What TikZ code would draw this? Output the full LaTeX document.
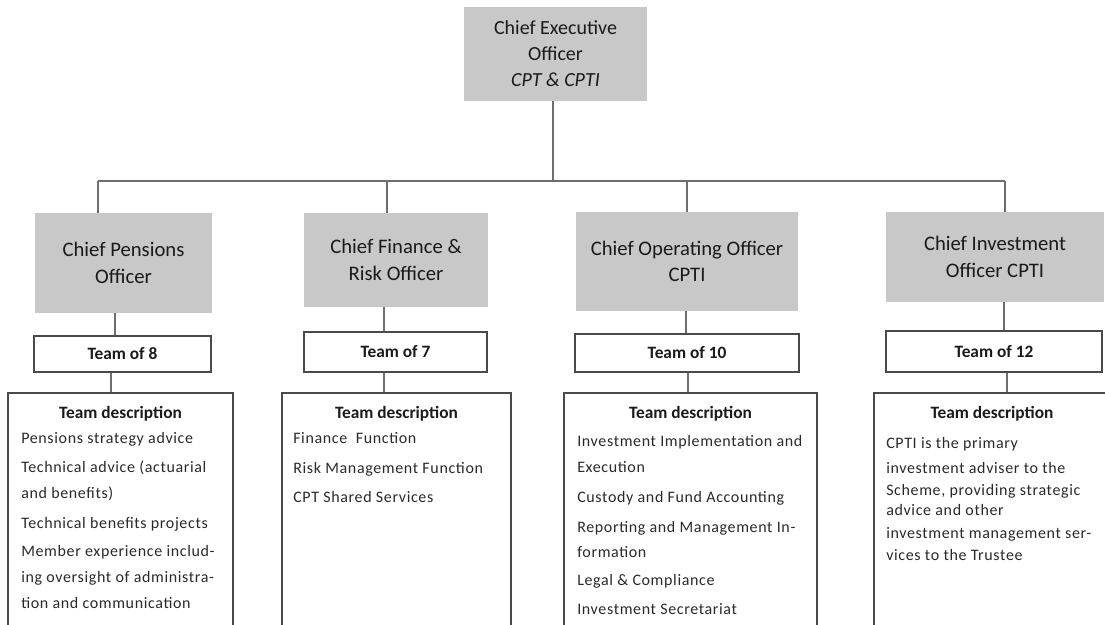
\documentclass[tikz,border=0pt]{standalone}
\usepackage{fontspec}
\setmainfont{Carlito}
\newfontfamily\descfont[LetterSpace=4.0]{Carlito}
\definecolor{boxgrey}{HTML}{C8C8C8}
\definecolor{linegrey}{HTML}{6E6E6E}
\definecolor{framegrey}{HTML}{4A4A4A}
\definecolor{txt}{HTML}{1A1A1A}
\definecolor{desctxt}{HTML}{2A2A2A}
\tikzset{
  greybox/.style={fill=boxgrey, draw=none, inner sep=0pt, text=txt, align=center},
  teambox/.style={draw=framegrey, line width=0.8pt, fill=white, inner sep=0pt, text=txt,
    font=\fontsize{13}{15}\selectfont\bfseries},
  descbox/.style={draw=framegrey, line width=0.8pt, fill=white, inner sep=0pt},
  conn/.style={draw=linegrey, line width=1.1pt},
  deschead/.style={anchor=base, inner sep=0pt, text=txt, font=\fontsize{13}{15}\selectfont\bfseries},
  descline/.style={anchor=base west, inner sep=0pt, text=desctxt, font=\descfont\fontsize{12}{14}\selectfont},
}
\begin{document}
\begin{tikzpicture}[x=0.75pt, y=-0.75pt]
\useasboundingbox (0,0) rectangle (1105,624);
\fill[white] (0,0) rectangle (1105,624);
\clip (0,0) rectangle (1105,624);

% CEO
\node[greybox, minimum width=183*0.75pt, minimum height=94*0.75pt,
  font=\fontsize{15}{19.5}\selectfont] (ceo) at (555.5,54)
  {Chief Executive\\Officer\\\textit{CPT \& CPTI}};

% Managers
\node[greybox, minimum width=177*0.75pt, minimum height=100*0.75pt,
  font=\fontsize{15.5}{20}\selectfont] (cpo) at (123.5,263) {Chief Pensions\\Officer};
\node[greybox, minimum width=184*0.75pt, minimum height=94*0.75pt,
  font=\fontsize{15.5}{20}\selectfont] (cfro) at (396,260) {Chief Finance \&\\Risk Officer};
\node[greybox, minimum width=222*0.75pt, minimum height=99*0.75pt,
  font=\fontsize{15.5}{20}\selectfont] (coo) at (687,261.5) {Chief Operating Officer\\CPTI};
\node[greybox, minimum width=218*0.75pt, minimum height=90*0.75pt,
  font=\fontsize{15.5}{20}\selectfont] (cio) at (995,257) {Chief Investment\\Officer CPTI};

% Team boxes
\node[teambox, minimum width=177*0.75pt, minimum height=36*0.75pt] (t8) at (122.5,354) {Team of 8};
\node[teambox, minimum width=183*0.75pt, minimum height=40*0.75pt] (t7) at (395.5,352) {Team of 7};
\node[teambox, minimum width=224*0.75pt, minimum height=38*0.75pt] (t10) at (687,353) {Team of 10};
\node[teambox, minimum width=216*0.75pt, minimum height=41*0.75pt] (t12) at (994,351.5) {Team of 12};

% Description boxes
\node[descbox, minimum width=225*0.75pt, minimum height=250*0.75pt] (d1) at (120.5,518) {};
\node[descbox, minimum width=229*0.75pt, minimum height=250*0.75pt] (d2) at (396.5,518) {};
\node[descbox, minimum width=253*0.75pt, minimum height=250*0.75pt] (d3) at (690.5,518) {};
\node[descbox, minimum width=246*0.75pt, minimum height=250*0.75pt] (d4) at (997,518) {};

% Connectors
\coordinate (b1) at (98,181);
\coordinate (b2) at (387,181);
\coordinate (b3) at (687,181);
\coordinate (b4) at (1005,181);
\draw[conn] (ceo.south -| 553,0) -- (b1 -| 553,0);
\draw[conn] (b1) -- (b4);
\draw[conn] (b1) -- (b1 |- cpo.north);
\draw[conn] (b2) -- (b2 |- cfro.north);
\draw[conn] (b3) -- (b3 |- coo.north);
\draw[conn] (b4) -- (b4 |- cio.north);
\draw[conn] (cpo.south -| 115,0) -- (t8.north -| 115,0);
\draw[conn] (cfro.south -| 384,0) -- (t7.north -| 384,0);
\draw[conn] (coo.south -| 686,0) -- (t10.north -| 686,0);
\draw[conn] (cio.south -| 1004,0) -- (t12.north -| 1004,0);
\draw[conn] (t8.south -| 111,0) -- (d1.north -| 111,0);
\draw[conn] (t7.south -| 384,0) -- (d2.north -| 384,0);
\draw[conn] (t10.south -| 688,0) -- (d3.north -| 688,0);
\draw[conn] (t12.south -| 1007,0) -- (d4.north -| 1007,0);

% Description texts
\node[deschead] (h1) at (120.5,418) {Team description};
\node[deschead] (h2) at (396.5,418) {Team description};
\node[deschead] (h3) at (690.5,418) {Team description};
\node[deschead] (h4) at (992,418) {Team description};

\node[descline] (p11) at (21,443) {Pensions strategy advice};
\node[descline] (p12) at (21,472) {Technical advice (actuarial};
\node[descline] (p13) at (21,498) {and benefits)};
\node[descline] (p14) at (21,528) {Technical benefits projects};
\node[descline] (p15) at (21,556) {Member experience includ-};
\node[descline] (p16) at (21,582) {ing oversight of administra-};
\node[descline] (p17) at (21,608) {tion and communication};

\node[descline] (p21) at (293,443) {Finance\ \ Function};
\node[descline] (p22) at (293,473) {Risk Management Function};
\node[descline] (p23) at (293,502) {CPT Shared Services};

\node[descline] (p31) at (577,446) {Investment Implementation and};
\node[descline] (p32) at (577,472) {Execution};
\node[descline] (p33) at (577,502) {Custody and Fund Accounting};
\node[descline] (p34) at (577,532) {Reporting and Management In-};
\node[descline] (p35) at (577,557) {formation};
\node[descline] (p36) at (577,585) {Legal \& Compliance};
\node[descline] (p37) at (577,614) {Investment Secretariat};

\node[descline] (p41) at (886,448) {CPTI is the primary};
\node[descline] (p42) at (886,473) {investment adviser to the};
\node[descline] (p43) at (886,495) {Scheme, providing strategic};
\node[descline] (p44) at (886,515) {advice and other};
\node[descline] (p45) at (886,538) {investment management ser-};
\node[descline] (p46) at (886,560) {vices to the Trustee};
\end{tikzpicture}
\end{document}
